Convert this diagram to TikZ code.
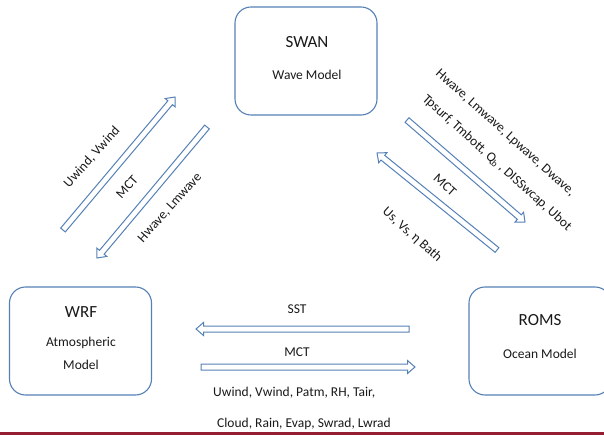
\documentclass[tikz,border=0pt]{standalone}
\usepackage{fontspec}
\setmainfont{Carlito}
\usetikzlibrary{calc}
\definecolor{bx}{RGB}{84,128,182}
\definecolor{rl}{RGB}{150,30,50}
\newcommand\blockarrow[2]{%
  \path let \p1=(#1), \p2=(#2) in
    \pgfextra{%
      \pgfmathsetmacro\baang{atan2(\y2-\y1,\x2-\x1)}%
      \pgfmathsetmacro\balen{veclen(\x2-\x1,\y2-\y1)}%
      \xdef\baang{\baang}\xdef\balen{\balen}\xdef\bax{\x1}\xdef\bay{\y1}};
  \draw[arr, shift={(\bax,\bay)}, rotate=\baang]
    (0pt,-3pt) -- ({\balen pt-7.5pt},-3pt) -- ({\balen pt-7.5pt},-6.5pt) -- (\balen pt,0pt)
    -- ({\balen pt-7.5pt},6.5pt) -- ({\balen pt-7.5pt},3pt) -- (0pt,3pt) -- cycle;}
\begin{document}
\begin{tikzpicture}[x=1pt,y=-1pt,
  box/.style={draw=bx, line width=1.1pt, rounded corners=16pt, minimum width=142pt, minimum height=108pt, inner sep=0pt},
  arr/.style={draw=bx, line width=1pt, line join=miter},
  ttl/.style={font=\fontsize{17}{20}\selectfont, text=black!90, inner sep=0pt},
  sub/.style={font=\fontsize{13.5}{16}\selectfont, text=black!90, inner sep=0pt},
  lbl/.style={font=\fontsize{13.5}{16}\selectfont, text=black!90, inner sep=0pt}]
\useasboundingbox (0,0) rectangle (604,435);
\clip (0,0) rectangle (604,435);
% boxes
\node[box] (swan) at (306,61) {};
\node[box] (wrf) at (80.5,341) {};
\node[box] (roms) at (540,341) {};
% box texts
\node[ttl] (swant) at (307,42) {SWAN};
\node[sub] (swans) at (307,75) {Wave Model};
\node[ttl] (wrft) at (81,312) {WRF};
\node[sub] (wrfs1) at (81,343) {Atmospheric};
\node[sub] (wrfs2) at (81,365) {Model};
\node[ttl] (romst) at (540,320) {ROMS};
\node[sub] (romss) at (540,354) {Ocean Model};
% arrow end points
\coordinate (a1s) at (63,230);  \coordinate (a1e) at (175,97);
\coordinate (a2s) at (207,127); \coordinate (a2e) at (97,258);
\coordinate (a3s) at (407,120); \coordinate (a3e) at (525,222);
\coordinate (a4s) at (497,250); \coordinate (a4e) at (377,153);
\coordinate (a5s) at (409,329); \coordinate (a5e) at (196,329);
\coordinate (a6s) at (201,367); \coordinate (a6e) at (415,367);
\blockarrow{a1s}{a1e}
\blockarrow{a2s}{a2e}
\blockarrow{a3s}{a3e}
\blockarrow{a4s}{a4e}
\blockarrow{a5s}{a5e}
\blockarrow{a6s}{a6e}
% left labels
\node[lbl, rotate=48] (l1) at (92,157) {Uwind, Vwind};
\node[lbl, rotate=48] (l2) at (127,187) {MCT};
\node[lbl, rotate=48] (l3) at (170,208) {Hwave, Lmwave};
% right labels
\node[lbl, rotate=-42] (r1) at (505,133) {Hwave, Lmwave, Lpwave, Dwave,};
\node[lbl, rotate=-42] (r2) at (497,163) {Tpsurf, Tmbott, Q\textsubscript{b} , DISSwcap, Ubot};
\node[lbl, rotate=-42] (r3) at (445,185) {MCT};
\node[lbl, rotate=-42] (r4) at (412,235) {Us, Vs, η Bath};
% bottom labels
\node[lbl] (b1) at (297,309) {SST};
\node[lbl] (b2) at (297,352) {MCT};
\node[lbl, anchor=west] (b3) at (213,393) {Uwind, Vwind, Patm, RH, Tair,};
\node[lbl, anchor=west] (b4) at (217,424) {Cloud, Rain, Evap, Swrad, Lwrad};
% bottom rule
\coordinate (rl1) at (0,433.5); \coordinate (rl2) at (604,433.5);
\draw[rl, line width=2.2pt] (rl1) -- (rl2);
\end{tikzpicture}
\end{document}
